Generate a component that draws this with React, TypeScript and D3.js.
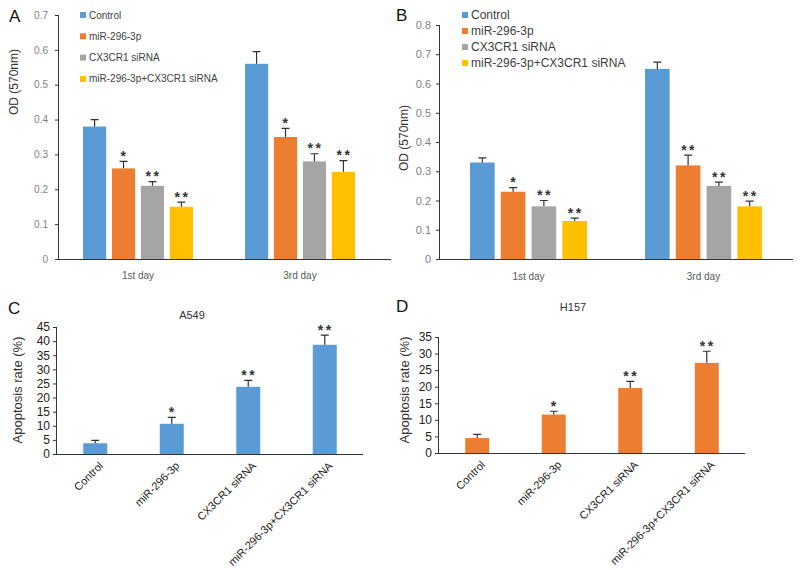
import React, { useRef, useEffect } from "react";
import * as d3 from "d3";

const groups = ["Control", "miR-296-3p", "CX3CR1 siRNA", "miR-296-3p+CX3CR1 siRNA"];
const colors = ["#5b9bd5", "#ed7d31", "#a5a5a5", "#ffc000"];
const days = ["1st day", "3rd day"];

// OD values (panel A, B) per day, per group
const odA = [
  [0.38, 0.26, 0.21, 0.15],
  [0.56, 0.35, 0.28, 0.25],
];
const sdA = [
  [0.02, 0.02, 0.012, 0.013],
  [0.035, 0.025, 0.022, 0.032],
];
const starsA = [
  ["", "*", "**", "**"],
  ["", "*", "**", "**"],
];

const odB = [
  [0.33, 0.23, 0.18, 0.13],
  [0.65, 0.32, 0.25, 0.18],
];
const sdB = [
  [0.016, 0.014, 0.02, 0.01],
  [0.023, 0.035, 0.013, 0.018],
];
const starsB = [
  ["", "*", "**", "**"],
  ["", "**", "**", "**"],
];

// apoptosis (panel C, D)
const apoC = [3.8, 10.7, 23.8, 38.7];
const sdC = [1.0, 2.3, 2.3, 3.4];
const apoD = [4.5, 11.6, 19.6, 27.2];
const sdD = [1.1, 1.0, 2.0, 3.5];
const starsCD = ["", "*", "**", "**"];

const FONT = "Arial, 'Liberation Sans', sans-serif";

function stars(g, x, yTop, s) {
  g.append("text")
    .attr("x", x + 1).attr("y", yTop - 0.5)
    .attr("text-anchor", "middle")
    .attr("font-size", 14).attr("font-weight", "bold").attr("fill", "#333")
    .attr("letter-spacing", 2.5)
    .text(s);
}

function drawGrouped(svg, o) {
  const g = svg.append("g").attr("font-family", FONT);
  const y = d3.scaleLinear().domain([0, o.max]).range([o.bottom, o.top]);
  const x0 = d3.scaleBand().domain(days).range(o.band);
  const x1 = d3.scaleBand().domain(groups).range([-o.inner / 2, o.inner / 2]).paddingInner(0.2);

  g.append("g")
    .attr("transform", `translate(${o.axisX},0)`)
    .call(d3.axisLeft(y).ticks(o.max * 10).tickSize(4).tickPadding(o.pad).tickFormat(d3.format(".1~f")))
    .call((a) => a.select(".domain").attr("stroke", "#333").attr("d", `M-0.5,${o.top}V${o.bottom}`))
    .call((a) => a.selectAll("line").attr("stroke", "#333"))
    .call((a) => a.selectAll("text").attr("fill", "#7f7f7f").attr("font-size", o.tickFs).attr("font-family", FONT));

  g.append("line")
    .attr("x1", o.axisX).attr("x2", o.axisEnd)
    .attr("y1", o.bottom + 0.5).attr("y2", o.bottom + 0.5)
    .attr("stroke", "#333");

  days.forEach((d, i) => {
    const c = x0(d) + x0.bandwidth() / 2;
    groups.forEach((gr, j) => {
      const bx = c + x1(gr);
      const v = o.vals[i][j];
      const e = v + o.sd[i][j];
      g.append("rect")
        .attr("x", bx).attr("width", x1.bandwidth())
        .attr("y", y(v)).attr("height", y(0) - y(v))
        .attr("fill", colors[j]);
      const mx = bx + x1.bandwidth() / 2;
      g.append("path")
        .attr("d", `M${mx},${y(v)}V${y(e)}M${mx - 4},${y(e)}H${mx + 4}`)
        .attr("stroke", "#333").attr("stroke-width", 1.2).attr("fill", "none");
      if (o.stars[i][j]) stars(g, mx, y(e), o.stars[i][j]);
    });
    g.append("text")
      .attr("x", c).attr("y", o.catY)
      .attr("text-anchor", "middle").attr("font-size", o.catFs).attr("fill", "#595959")
      .text(d);
  });

  groups.forEach((gr, j) => {
    const ly = o.legY + j * o.legStep;
    g.append("rect").attr("x", o.legX).attr("y", ly - 3).attr("width", 6).attr("height", 6).attr("fill", colors[j]);
    g.append("text")
      .attr("x", o.legX + 9).attr("y", ly).attr("dy", "0.35em")
      .attr("font-size", o.legFs).attr("fill", "#404040")
      .text(gr);
  });

  g.append("text")
    .attr("transform", `translate(${o.labX},${o.labY}) rotate(-90)`)
    .attr("text-anchor", "middle").attr("font-size", 12).attr("fill", "#333")
    .text("OD (570nm)");

  g.append("text")
    .attr("x", o.letterX).attr("y", o.letterY)
    .attr("font-size", 17).attr("fill", "#111")
    .text(o.letter);
}

function drawSingle(svg, o) {
  const g = svg.append("g").attr("font-family", FONT);
  const y = d3.scaleLinear().domain([0, o.max]).range([o.bottom, o.top]);
  const x = d3.scaleBand().domain(groups).range([o.axisX, o.axisEnd]);

  g.append("g")
    .attr("transform", `translate(${o.axisX},0)`)
    .call(d3.axisLeft(y).ticks(o.max / 5).tickSize(4).tickPadding(3))
    .call((a) => a.select(".domain").attr("stroke", "#333").attr("d", `M-0.5,${o.top}V${o.bottom}`))
    .call((a) => a.selectAll("line").attr("stroke", "#333"))
    .call((a) => a.selectAll("text").attr("fill", "#222").attr("font-size", 12).attr("font-family", FONT));

  g.append("line")
    .attr("x1", o.axisX).attr("x2", o.axisEnd)
    .attr("y1", o.bottom + 0.5).attr("y2", o.bottom + 0.5)
    .attr("stroke", "#333");

  groups.forEach((gr, j) => {
    const c = x(gr) + x.bandwidth() / 2;
    const v = o.vals[j];
    const e = v + o.sd[j];
    g.append("rect")
      .attr("x", c - 12).attr("width", 24)
      .attr("y", y(v)).attr("height", y(0) - y(v))
      .attr("fill", o.color);
    g.append("path")
      .attr("d", `M${c},${y(v)}V${y(e)}M${c - 4},${y(e)}H${c + 4}`)
      .attr("stroke", "#333").attr("stroke-width", 1.2).attr("fill", "none");
    if (starsCD[j]) stars(g, c, y(e), starsCD[j]);
    g.append("text")
      .attr("transform", `translate(${c + 3},${o.bottom + 7}) rotate(-45)`)
      .attr("text-anchor", "end").attr("dy", "0.7em")
      .attr("font-size", 11).attr("fill", "#222")
      .text(gr);
  });

  g.append("text")
    .attr("transform", `translate(${o.labX},${o.labY}) rotate(-90)`)
    .attr("text-anchor", "middle").attr("font-size", 13).attr("fill", "#333")
    .text("Apoptosis rate (%)");

  g.append("text")
    .attr("x", o.titleX).attr("y", o.titleY)
    .attr("text-anchor", "middle").attr("font-size", 11).attr("fill", "#333")
    .text(o.title);

  g.append("text")
    .attr("x", o.letterX).attr("y", o.letterY)
    .attr("font-size", 17).attr("fill", "#111")
    .text(o.letter);
}

export default function App() {
  const svgRef = useRef(null);

  useEffect(() => {
    const svg = d3.select(svgRef.current);
    svg.selectAll("*").remove();

    drawGrouped(svg, {
      max: 0.7, top: 15, bottom: 259, axisX: 59, axisEnd: 391, band: [57, 381], inner: 110,
      pad: 7, tickFs: 10, catY: 279, catFs: 10,
      vals: odA, sd: sdA, stars: starsA,
      legX: 80, legY: 15, legStep: 21.3, legFs: 10,
      labX: 18, labY: 82, letter: "A", letterX: 9, letterY: 22,
    });

    drawGrouped(svg, {
      max: 0.8, top: 25, bottom: 259, axisX: 440, axisEnd: 793, band: [441, 791], inner: 117,
      pad: 5, tickFs: 11, catY: 280, catFs: 10,
      vals: odB, sd: sdB, stars: starsB,
      legX: 462, legY: 15, legStep: 16, legFs: 12,
      labX: 408, labY: 138, letter: "B", letterX: 396, letterY: 21,
    });

    drawSingle(svg, {
      max: 45, top: 327, bottom: 454, axisX: 57, axisEnd: 363,
      vals: apoC, sd: sdC, color: "#5b9bd5",
      labX: 22, labY: 390, title: "A549", titleX: 192, titleY: 319,
      letter: "C", letterX: 8, letterY: 314,
    });

    drawSingle(svg, {
      max: 35, top: 337, bottom: 453, axisX: 439, axisEnd: 745,
      vals: apoD, sd: sdD, color: "#ed7d31",
      labX: 409, labY: 390, title: "H157", titleX: 573, titleY: 311,
      letter: "D", letterX: 396, letterY: 312,
    });
  }, []);

  return (
    <svg
      ref={svgRef}
      width={800}
      height={570}
      style={{ position: "absolute", left: 0, top: 0, background: "#fff" }}
    />
  );
}
